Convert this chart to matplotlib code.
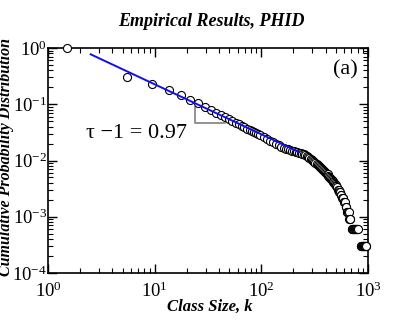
import matplotlib
matplotlib.use('Agg')
import matplotlib.pyplot as plt
from matplotlib.ticker import LogLocator, NullFormatter, LogFormatterMathtext

plt.rcParams['font.family'] = ['Liberation Serif', 'DejaVu Serif']
plt.rcParams['mathtext.fontset'] = 'custom'
plt.rcParams['mathtext.rm'] = 'Liberation Serif'
plt.rcParams['mathtext.it'] = 'Liberation Serif:italic'
plt.rcParams['mathtext.bf'] = 'Liberation Serif:bold'

# Class-size bins (k) and cumulative probability values
class_size = [
    1.5, 5.5, 9.5, 13.5, 17.5, 21.5, 25.5, 29.5, 33.5, 37.5, 41.5, 45.5, 49.5,
    53.5, 57.5, 61.5, 65.5, 69.5, 73.5, 77.5, 81.5, 85.5, 89.5, 93.5, 97.5,
    105.5, 113.5, 121.5, 129.5, 137.5, 145.5, 153.5, 161.5, 169.5, 177.5,
    185.5, 193.5, 201.5, 209.5, 217.5, 225.5, 233.5, 241.5, 249.5, 257.5,
    265.5, 273.5, 281.5, 289.5, 297.5, 305.5, 313.5, 321.5, 329.5, 337.5,
    345.5, 353.5, 361.5, 369.5, 377.5, 385.5, 393.5, 401.5, 409.5, 417.5,
    425.5, 433.5, 441.5, 449.5, 457.5, 465.5, 473.5, 481.5, 489.5, 497.5,
    505.5, 513.5, 521.5, 529.5, 537.5, 545.5, 553.5, 561.5, 569.5, 577.5,
    585.5, 593.5, 601.5, 609.5, 617.5, 625.5, 633.5, 641.5, 649.5, 657.5,
    665.5, 673.5, 681.5,
    705.5, 713.5, 721.5, 729.5, 737.5, 745.5, 753.5, 761.5, 769.5, 777.5,
    785.5, 793.5, 801.5,
    857.5, 865.5, 873.5, 881.5, 889.5, 897.5, 905.5, 913.5, 921.5, 929.5,
    937.5, 945.5, 953.5, 961.5,
]
cum_prob = [
    1.0, 0.301, 0.226, 0.177, 0.148, 0.119, 0.104, 0.0904, 0.080, 0.0708,
    0.0636, 0.0586, 0.054,
    0.0501, 0.0467, 0.0437, 0.0411, 0.0388, 0.0367, 0.0349, 0.0332, 0.0317,
    0.0303, 0.0290, 0.0279,
    0.0257, 0.0239, 0.0223, 0.0209, 0.0197, 0.0187, 0.0177, 0.0170, 0.0163,
    0.0157, 0.0153, 0.0149, 0.0146, 0.01426, 0.0140, 0.01375, 0.01352,
    0.0133, 0.0129, 0.01253, 0.0122, 0.01172, 0.01124, 0.01077, 0.01033,
    0.00993, 0.00953, 0.00917, 0.00883, 0.00847, 0.00810, 0.00776, 0.00745,
    0.00714, 0.00686, 0.00659, 0.00634, 0.00610, 0.00587, 0.00565, 0.00541,
    0.00518, 0.00497, 0.00477, 0.00458, 0.00439, 0.00420, 0.00401, 0.00383,
    0.00367, 0.00352, 0.00333, 0.00303, 0.00303, 0.00273, 0.00273, 0.00242,
    0.00242, 0.00212, 0.00212, 0.00212, 0.00182, 0.00182, 0.00182, 0.00152,
    0.00152, 0.00121, 0.00121, 0.00121, 0.00121, 0.00091, 0.00091, 0.00091,
    0.000606, 0.000606, 0.000606, 0.000606, 0.000606, 0.000606, 0.000606,
    0.000606, 0.000606, 0.000606, 0.000606, 0.000606, 0.000606,
    0.000303, 0.000303, 0.000303, 0.000303, 0.000303, 0.000303, 0.000303,
    0.000303, 0.000303, 0.000303, 0.000303, 0.000303, 0.000303, 0.000303,
]

# Power-law fit line endpoints
fit_k = [2.51, 226.0]
fit_p = [0.773, 0.01416]

# Slope triangle (k range, P range)
tri_k = [23.7, 46.0]
tri_p = [0.0906, 0.0458]

fig = plt.figure(figsize=(4.18, 3.23), dpi=100)
ax = fig.add_axes([48 / 418, 50 / 323, 320 / 418, 225 / 323])
ax.set_xscale('log')
ax.set_yscale('log')
ax.set_xlim(1, 1000)
ax.set_ylim(1e-4, 1)

ax.plot(class_size, cum_prob, 'o', mfc='white', mec='black', ms=5.8, mew=0.8,
        clip_on=False, zorder=3)
ax.plot(fit_k, fit_p, color='#1010ee', lw=1.4, zorder=4)
ax.plot([tri_k[0], tri_k[0], tri_k[1]], [tri_p[0], tri_p[1], tri_p[1]],
        color='#808080', lw=1.2, zorder=2)

for axis in (ax.xaxis, ax.yaxis):
    axis.set_major_locator(LogLocator(base=10, numticks=10))
    axis.set_minor_locator(LogLocator(base=10, subs=range(2, 10), numticks=20))
    axis.set_minor_formatter(NullFormatter())
    axis.set_major_formatter(LogFormatterMathtext())

ax.tick_params(which='both', direction='in', top=True, right=True)
ax.tick_params(which='major', length=6.5, width=1.0, labelsize=13.5)
ax.tick_params(axis='x', which='major', pad=6.5)
ax.tick_params(axis='y', which='major', pad=0.8)
ax.tick_params(which='minor', length=3.5, width=0.8)
for s in ax.spines.values():
    s.set_linewidth(1.2)

ax.text(0.119, 0.622, 'τ −1 = 0.97', transform=ax.transAxes, fontsize=16,
        ha='left', va='center')
ax.text(0.969, 0.902, '(a)', transform=ax.transAxes, fontsize=16,
        ha='right', va='center')

fig.text(211 / 418, 1 - 21 / 323, 'Empirical Results, PHID', fontsize=13,
         fontweight='bold', fontstyle='italic', ha='center', va='center')
fig.text(210 / 418, 1 - 307 / 323, 'Class Size, k', fontsize=12,
         fontweight='bold', fontstyle='italic', ha='center', va='center')
fig.text(6.5 / 418, 1 - 157 / 323, 'Cumulative Probability Distribution',
         fontsize=11.5, fontweight='bold', fontstyle='italic', rotation=90,
         ha='center', va='center')

fig.savefig('out.png', dpi=100)
